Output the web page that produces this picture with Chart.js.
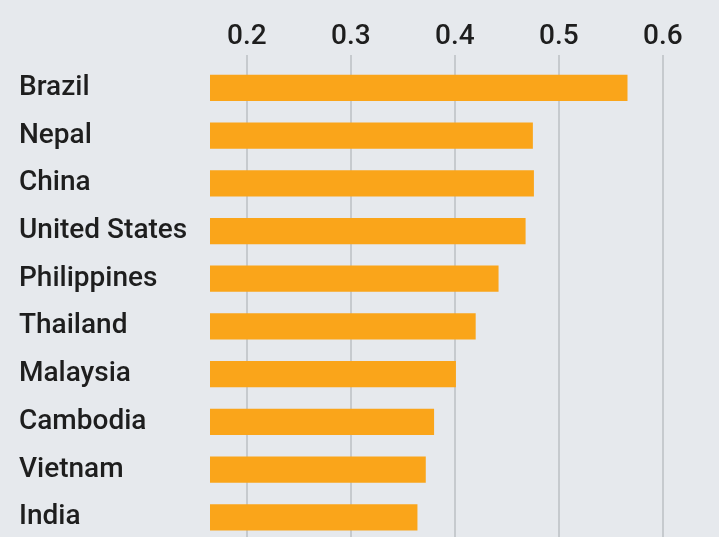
<!DOCTYPE html>
<html>
<head>
<meta charset="utf-8">
<script src="https://cdn.jsdelivr.net/npm/chart.js@4.4.1/dist/chart.umd.min.js"></script>
<style>
  html, body { margin: 0; padding: 0; overflow: hidden; background: #e6e9ed; }
  #wrap { width: 719px; height: 558px; }
</style>
</head>
<body>
<div id="wrap"><canvas id="c" width="719" height="558"></canvas></div>
<script>
const countries = ["Brazil", "Nepal", "China", "United States", "Philippines", "Thailand", "Malaysia", "Cambodia", "Vietnam", "India"];
const values = [0.566, 0.475, 0.476, 0.468, 0.442, 0.420, 0.401, 0.380, 0.372, 0.364];
const tickValues = [0.2, 0.3, 0.4, 0.5, 0.6];

const bgPlugin = {
  id: 'bg',
  beforeDraw(chart) {
    const ctx = chart.ctx;
    ctx.save();
    ctx.fillStyle = '#e6e9ed';
    ctx.fillRect(0, 0, chart.width, chart.height);
    ctx.restore();
  }
};

const font = { family: 'Roboto, "Liberation Sans", Arial, sans-serif', size: 28, weight: '500' };

new Chart(document.getElementById('c'), {
  type: 'bar',
  data: {
    labels: countries,
    datasets: [{
      data: values,
      backgroundColor: '#faa51a',
      borderWidth: 0,
      barPercentage: 0.55,
      categoryPercentage: 1.0
    }]
  },
  options: {
    indexAxis: 'y',
    responsive: false,
    animation: false,
    layout: { padding: { left: 19, right: 0, top: 0, bottom: 0 } },
    plugins: { legend: { display: false }, tooltip: { enabled: false } },
    scales: {
      x: {
        position: 'top',
        min: 0.1645,
        max: 0.654,
        afterBuildTicks: s => { s.ticks = tickValues.map(v => ({ value: v })); },
        afterFit: s => { s.height = 64; },
        border: { display: false },
        grid: { color: '#c6cace', lineWidth: 2, drawTicks: true, tickLength: 9, tickColor: '#c6cace' },
        ticks: { color: '#1e1e1e', font: font, padding: 1, callback: v => v.toFixed(1) }
      },
      y: {
        afterFit: s => { s.width = 191; },
        border: { display: false },
        grid: { display: false },
        ticks: { color: '#1e1e1e', font: font, crossAlign: 'far', padding: 0 }
      }
    }
  },
  plugins: [bgPlugin]
});
</script>
</body>
</html>
